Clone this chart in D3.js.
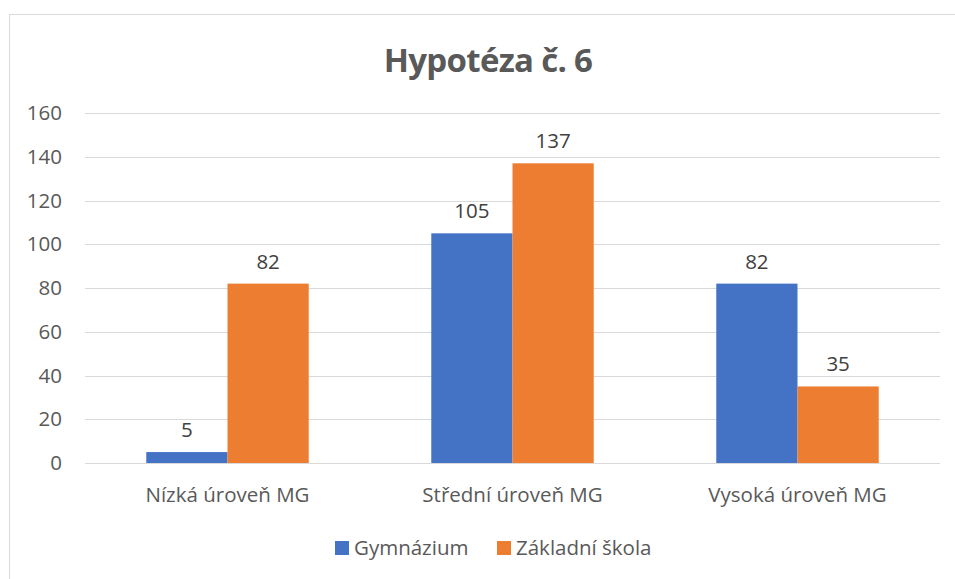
<!DOCTYPE html>
<html>
<head>
<meta charset="utf-8">
<script src="https://cdn.jsdelivr.net/npm/d3@7"></script>
<style>
  body { margin: 0; background: #fff; }
  svg text { font-family: "Open Sans", "Noto Sans", sans-serif; }
</style>
</head>
<body>
<div id="grafico"></div>
<script>
const kategorie = ["Nízká úroveň MG", "Střední úroveň MG", "Vysoká úroveň MG"];
const serie = ["Gymnázium", "Základní škola"];
const gymnazium = [5, 105, 82];
const zakladniSkola = [82, 137, 35];
const barvy = ["#4472c4", "#ed7d31"];
const ticks = [0, 20, 40, 60, 80, 100, 120, 140, 160];

// tabulka pro d3
const dados = kategorie.map((k, i) => ({ kat: k, hodnoty: [gymnazium[i], zakladniSkola[i]] }));

function vytvorGraf(title, data, target) {
    const largura = 955, altura = 579;
    const margem = { left: 85, right: 15, top: 113, bottom: 116 };

    const svg = d3.select(target)
        .append("svg")
        .attr("width", largura)
        .attr("height", altura);

    // ramecek
    svg.append("rect")
        .attr("x", 9.5).attr("y", 14.5)
        .attr("width", 960).attr("height", 600)
        .attr("fill", "none")
        .attr("stroke", "#d9d9d9");

    const x0 = d3.scaleBand()
        .domain(kategorie)
        .range([margem.left, largura - margem.right])
        .paddingInner(0.43)
        .paddingOuter(0.215);
    const x1 = d3.scaleBand()
        .domain(serie)
        .range([0, x0.bandwidth()]);
    const y = d3.scaleLinear()
        .domain([0, 160])
        .range([altura - margem.bottom, margem.top]);

    // mrizka
    svg.append("g")
        .selectAll("line")
        .data(ticks)
        .enter()
        .append("line")
        .attr("x1", margem.left).attr("x2", largura - margem.right)
        .attr("y1", d => Math.round(y(d)) + 0.5).attr("y2", d => Math.round(y(d)) + 0.5)
        .attr("stroke", "#d9d9d9")
        .attr("stroke-width", 1);

    // popisky osy y
    svg.append("g")
        .selectAll("text")
        .data(ticks)
        .enter()
        .append("text")
        .attr("x", 62)
        .attr("y", d => y(d) + 7)
        .attr("text-anchor", "end")
        .attr("fill", "#595959")
        .style("font-size", "20.5px")
        .text(d => d);

    // sloupce
    const skupiny = svg.selectAll(".skupina")
        .data(data)
        .enter()
        .append("g")
        .attr("transform", d => `translate(${x0(d.kat)},0)`);

    skupiny.selectAll("rect")
        .data(d => d.hodnoty.map((v, i) => ({ s: serie[i], v: v, i: i })))
        .enter()
        .append("rect")
        .attr("x", d => x1(d.s))
        .attr("width", x1.bandwidth())
        .attr("y", d => y(d.v))
        .attr("height", d => y(0) - y(d.v))
        .attr("fill", d => barvy[d.i]);

    skupiny.selectAll(".hodnota")
        .data(d => d.hodnoty.map((v, i) => ({ s: serie[i], v: v })))
        .enter()
        .append("text")
        .attr("x", d => x1(d.s) + x1.bandwidth() / 2)
        .attr("y", d => y(d.v) - 15)
        .attr("text-anchor", "middle")
        .attr("fill", "#404040")
        .style("font-size", "20.5px")
        .text(d => d.v);

    // popisky kategorii
    svg.append("g")
        .selectAll("text")
        .data(kategorie)
        .enter()
        .append("text")
        .attr("x", d => x0(d) + x0.bandwidth() / 2)
        .attr("y", 502)
        .attr("text-anchor", "middle")
        .attr("fill", "#595959")
        .style("font-size", "20.5px")
        .text(d => d);

    // legenda
    const legX = [335, 497];
    const leg = svg.append("g")
        .selectAll("g")
        .data(serie)
        .enter()
        .append("g")
        .attr("transform", (d, i) => `translate(${legX[i]}, 541)`);
    leg.append("rect")
        .attr("width", 14).attr("height", 14)
        .attr("fill", (d, i) => barvy[i]);
    leg.append("text")
        .attr("x", 19).attr("y", 14)
        .attr("fill", "#595959")
        .style("font-size", "20.5px")
        .text(d => d);

    // titulek
    svg.append("text")
        .attr("x", 488)
        .attr("y", 72)
        .attr("text-anchor", "middle")
        .attr("fill", "#595959")
        .style("font-size", "33px")
        .style("font-weight", "bold")
        .style("letter-spacing", "-0.7px")
        .text(title);
}

vytvorGraf("Hypotéza č. 6", dados, "#grafico");
</script>
</body>
</html>
